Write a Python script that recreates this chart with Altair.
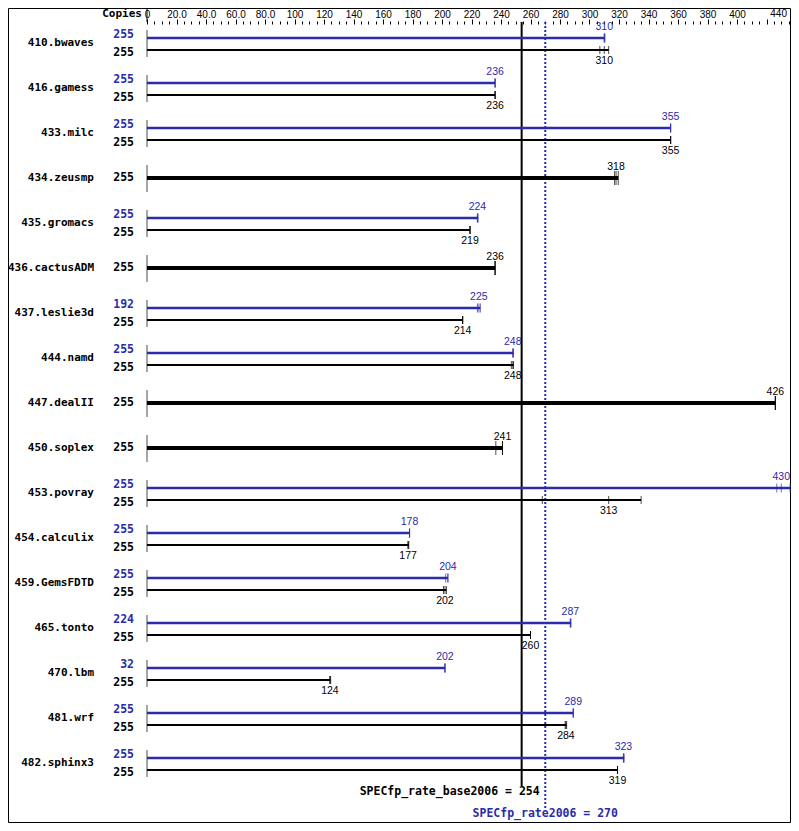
import altair as alt
import pandas as pd

benchmarks = ["410.bwaves", "416.gamess", "433.milc", "434.zeusmp", "435.gromacs",
              "436.cactusADM", "437.leslie3d", "444.namd", "447.dealII", "450.soplex",
              "453.povray", "454.calculix", "459.GemsFDTD", "465.tonto", "470.lbm",
              "481.wrf", "482.sphinx3"]
base_copies = [255, 255, 255, 255, 255, 255, 255, 255, 255, 255, 255, 255, 255, 255, 255, 255, 255]
peak_copies = [255, 255, 255, None, 255, None, 192, 255, None, None, 255, 255, 255, 224, 32, 255, 255]
base_median = [310, 236, 355, 318, 219, 236, 214, 248, 426, 241, 313, 177, 202, 260, 124, 284, 319]
peak_median = [310, 236, 355, None, 224, None, 225, 248, None, None, 430, 178, 204, 287, 202, 289, 323]
base_runs = [[307, 310, 313], [236, 236, 236], [355, 355, 355], [317, 318, 319.5],
             [219, 219, 219], [236, 236, 236], [214, 214, 214], [247, 248, 248.5],
             [426, 426, 426], [236.5, 241, 241], [268, 313, 335], [177, 177, 177.5],
             [201, 202, 203], [260, 260, 260], [124, 124, 124.5], [283.5, 284, 284.5],
             [319, 319, 319]]
peak_runs = [[310, 310, 310.5], [236, 236, 236], [355, 355, 355], None,
             [224, 224, 224.5], None, [224, 225, 226], [248, 248, 248.5],
             None, None, [427, 430, 436], [178, 178, 178], [202.5, 204, 204],
             [287, 287, 287.5], [202, 202, 202], [289, 289, 289], [323, 323, 323.5]]
base_score = 254
peak_score = 270
copies_title = "Copies"
axis_last_label = "440"

BLUE = "#2b2bab"
MONO = "DejaVu Sans Mono"
SANS = "Liberation Sans"

rows_all, rows_pair, rows_single = [], [], []
runs_peak, runs_base_pair, runs_base_single = [], [], []
for i, name in enumerate(benchmarks):
    rows_all.append({"row": i, "name": name})
    rec = {"row": i, "zero": 0, "base_copies": str(base_copies[i]),
           "base_median": base_median[i], "base_max": max(base_runs[i])}
    if peak_copies[i] is None:
        rows_single.append(rec)
        for v in base_runs[i]:
            runs_base_single.append({"row": i, "value": v})
    else:
        rec.update({"peak_copies": str(peak_copies[i]), "peak_median": peak_median[i],
                    "peak_max": max(peak_runs[i])})
        rows_pair.append(rec)
        for v in base_runs[i]:
            runs_base_pair.append({"row": i, "value": v})
        for v in peak_runs[i]:
            runs_peak.append({"row": i, "value": v})

df_all = pd.DataFrame(rows_all)
df_pair = pd.DataFrame(rows_pair)
df_single = pd.DataFrame(rows_single)
df_rp = pd.DataFrame(runs_peak)
df_rbp = pd.DataFrame(runs_base_pair)
df_rbs = pd.DataFrame(runs_base_single)
df_one = pd.DataFrame({"k": [0]})

xs = alt.Scale(domain=[0, 440], range=[0, 649], nice=False)
ys = alt.Scale(domain=[-19 / 45, 780 / 45], range=[0, 799], nice=False, zero=False)
xaxis = alt.Axis(
    orient="top", values=list(range(0, 445, 5)), title="", grid=False, domain=False,
    labelExpr="datum.value % 20 !== 0 || datum.value > 400 ? '' : (datum.value === 0 ? '0' : (datum.value < 100 ? format(datum.value, '.1f') : format(datum.value, 'd')))",
    tickSize={"condition": {"test": "datum.value % 20 !== 0", "value": 3}, "value": 5},
    tickColor="black", tickWidth=1, labelFont=SANS, labelFontSize=10, labelColor="black",
    labelPadding=0, labelOverlap=False, labelFlush=False, labelAngle=0)


def X(field=None, datum=None):
    if datum is not None:
        return alt.X(datum=datum, type="quantitative", scale=xs, axis=xaxis)
    return alt.X(field, type="quantitative", scale=xs, axis=xaxis)


Y = alt.Y("row:Q", scale=ys, axis=None)

layers = []
# frame
layers.append(alt.Chart(df_one).mark_rect(filled=False, color="black", strokeWidth=1).encode(
    x=alt.value(-138.5), x2=alt.value(643.5), y=alt.value(-15.5), y2=alt.value(798.5)))
# separator at top
layers.append(alt.Chart(df_one).mark_rule(color="black", strokeWidth=1).encode(
    x=X(datum=0), y=alt.value(-16), y2=alt.value(-2)))
# row segments at zero
layers.append(alt.Chart(df_all).mark_tick(orient="vertical", size=27, thickness=1,
                                           color="black", yOffset=0.5).encode(x=X(datum=0), y=Y))
# score lines
layers.append(alt.Chart(df_one).mark_rule(color="black", strokeWidth=2).encode(
    x=X(datum=base_score), y=alt.value(-2), y2=alt.value(762)))
layers.append(alt.Chart(df_one).mark_rule(color=BLUE, strokeWidth=2, strokeDash=[2, 2]).encode(
    x=X(datum=peak_score), y=alt.value(-2), y2=alt.value(784)))
# bars
layers.append(alt.Chart(df_pair).mark_rule(color=BLUE, strokeWidth=2.5, yOffset=-5).encode(
    x=X("zero"), x2="peak_max:Q", y=Y))
layers.append(alt.Chart(df_pair).mark_rule(color="black", strokeWidth=2, yOffset=7).encode(
    x=X("zero"), x2="base_max:Q", y=Y))
layers.append(alt.Chart(df_single).mark_rule(color="black", strokeWidth=4).encode(
    x=X("zero"), x2="base_max:Q", y=Y))
# run ticks
layers.append(alt.Chart(df_rp).mark_tick(orient="vertical", size=9, thickness=1, color=BLUE,
                                          yOffset=-5).encode(x=X("value"), y=Y))
layers.append(alt.Chart(df_rbp).mark_tick(orient="vertical", size=8, thickness=1, color="black",
                                           yOffset=7).encode(x=X("value"), y=Y))
layers.append(alt.Chart(df_rbs).mark_tick(orient="vertical", size=14, thickness=1, color="black"
                                           ).encode(x=X("value"), y=Y))
# texts
layers.append(alt.Chart(df_all).mark_text(align="right", baseline="middle", font=MONO,
                                           fontWeight="bold", fontSize=11, color="black").encode(
    x=alt.value(-53), y=Y, text="name:N"))
layers.append(alt.Chart(df_pair).mark_text(align="right", baseline="middle", font=MONO,
                                            fontWeight="bold", fontSize=11.5, color=BLUE, dy=-8).encode(
    x=alt.value(-13), y=Y, text="peak_copies:N"))
layers.append(alt.Chart(df_pair).mark_text(align="right", baseline="middle", font=MONO,
                                            fontWeight="bold", fontSize=11.5, color="black", dy=10).encode(
    x=alt.value(-13), y=Y, text="base_copies:N"))
layers.append(alt.Chart(df_single).mark_text(align="right", baseline="middle", font=MONO,
                                              fontWeight="bold", fontSize=11.5, color="black").encode(
    x=alt.value(-13), y=Y, text="base_copies:N"))
layers.append(alt.Chart(df_pair).mark_text(align="center", baseline="middle", font=SANS,
                                            fontSize=10.5, color=BLUE, dy=-16).encode(
    x=X("peak_median"), y=Y, text=alt.Text("peak_median:Q", format="d")))
layers.append(alt.Chart(df_pair).mark_text(align="center", baseline="middle", font=SANS,
                                            fontSize=10.5, color="black", dy=17.5).encode(
    x=X("base_median"), y=Y, text=alt.Text("base_median:Q", format="d")))
layers.append(alt.Chart(df_single).mark_text(align="center", baseline="middle", font=SANS,
                                              fontSize=10.5, color="black", dy=-11).encode(
    x=X("base_median"), y=Y, text=alt.Text("base_median:Q", format="d")))
layers.append(alt.Chart(df_one).mark_text(align="right", baseline="middle", font=MONO,
                                           fontWeight="bold", fontSize=11, color="black").encode(
    x=alt.value(-5), y=alt.value(-10), text=alt.value(copies_title)))
layers.append(alt.Chart(df_one).mark_text(align="right", baseline="middle", font=SANS,
                                           fontSize=10, color="black", dx=-9).encode(
    x=X(datum=440), y=alt.value(-10), text=alt.value(axis_last_label)))
layers.append(alt.Chart(df_one).mark_text(align="right", baseline="middle", font=MONO,
                                           fontWeight="bold", fontSize=11.5, color="black", dx=18).encode(
    x=X(datum=base_score), y=alt.value(768), text=alt.value(f"SPECfp_rate_base2006 = {base_score}")))
layers.append(alt.Chart(df_one).mark_text(align="center", baseline="middle", font=MONO,
                                           fontWeight="bold", fontSize=11.5, color=BLUE).encode(
    x=X(datum=peak_score), y=alt.value(790), text=alt.value(f"SPECfp_rate2006 = {peak_score}")))

chart = alt.layer(*layers).properties(
    width=644, height=799,
    padding={"left": 139, "top": 16, "right": 0, "bottom": 0},
    autosize=alt.AutoSizeParams(type="none"),
).configure_view(stroke=None)

chart.save("out.html", embed_options={"renderer": "svg", "actions": False})
